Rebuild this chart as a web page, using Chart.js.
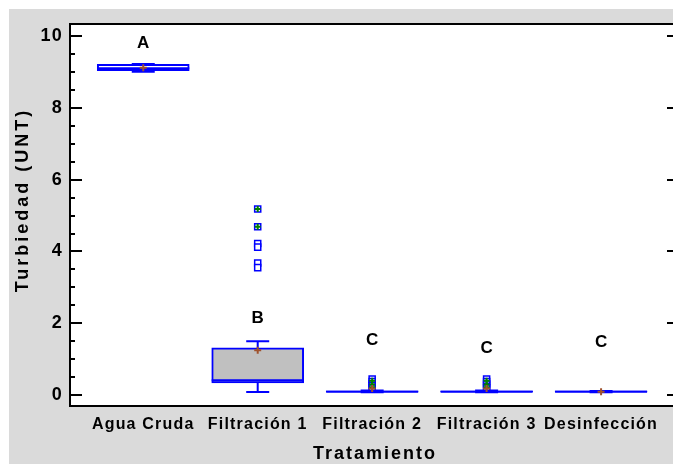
<!DOCTYPE html>
<html>
<head>
<meta charset="utf-8">
<script src="https://cdn.jsdelivr.net/npm/chart.js@4"></script>
<style>
  body { margin: 0; background: #fff; }
  #wrap { width: 673px; height: 464px; }
</style>
</head>
<body>
<div id="wrap"><canvas id="chart" width="673" height="464"></canvas></div>
<script>
// categories and box statistics
const categories = ['Agua Cruda', 'Filtración 1', 'Filtración 2', 'Filtración 3', 'Desinfección'];
const q1 = [9.03, 0.34, 0.09, 0.09, 0.09];
const q3 = [9.21, 1.32, 0.12, 0.12, 0.12];
const medians = [9.1, 0.42, 0.1, 0.1, 0.1];
const means = [9.11, 1.25, 0.19, 0.19, 0.1];
const whiskerLow = [9.0, 0.09, 0.08, 0.08, 0.08];
const whiskerHigh = [9.22, 1.5, 0.13, 0.13, 0.12];
const letters = ['A', 'B', 'C', 'C', 'C'];
const letterY = [9.78, 2.14, 1.53, 1.31, 1.48];

// outliers per category (index into categories)
const outliers = [[], [5.18, 4.69, 4.22, 4.12, 3.68, 3.55], [0.45, 0.38, 0.32, 0.26, 0.2], [0.45, 0.38, 0.31, 0.25, 0.2], []];
const farOutliers = [[], [5.18, 4.69], [0.4, 0.3, 0.22], [0.4, 0.3, 0.22], []];

const yTicks = [0, 0.5, 1, 1.5, 2, 2.5, 3, 3.5, 4, 4.5, 5, 5.5, 6, 6.5, 7, 7.5, 8, 8.5, 9, 9.5, 10];

const xTitle = 'Tratamiento';
const yTitle = 'Turbiedad (UNT)';

const boxColor = '#0000ff';
const meanColor = '#a0522d';
const FONT = 'Arial, "Liberation Sans", sans-serif';

// flatten outliers to {x, y} points
const outPts = [];
outliers.forEach((arr, i) => arr.forEach(v => outPts.push({ x: i, y: v })));
const farPts = [];
farOutliers.forEach((arr, i) => arr.forEach(v => farPts.push({ x: i, y: v })));

const backgroundPlugin = {
    id: 'bg',
    beforeDraw(chart) {
        const c = chart.ctx, a = chart.chartArea;
        c.save();
        c.fillStyle = '#fff';
        c.fillRect(0, 0, chart.width, chart.height);
        c.fillStyle = '#dadada';
        c.fillRect(9, 9, chart.width - 9, chart.height - 9);
        // plot panel runs past the right edge of the picture
        c.fillStyle = '#fff';
        c.fillRect(a.left, a.top, chart.width - a.left, a.bottom - a.top);
        c.restore();
        // the original text is a bit spaced out
        c.letterSpacing = '1.2px';
    }
};

// whiskers, medians, means, letters, inward ticks, titles and top frame
const boxPlugin = {
    id: 'boxExtras',
    afterDatasetsDraw(chart) {
        const c = chart.ctx;
        const xs = chart.scales.x, ys = chart.scales.y;
        c.save();
        c.strokeStyle = boxColor;
        c.lineWidth = 2;
        categories.forEach((cat, i) => {
            const x = xs.getPixelForValue(i);
            const capW = 11.5;
            c.beginPath();
            c.moveTo(x, ys.getPixelForValue(q3[i]));
            c.lineTo(x, ys.getPixelForValue(whiskerHigh[i]));
            c.moveTo(x - capW, ys.getPixelForValue(whiskerHigh[i]));
            c.lineTo(x + capW, ys.getPixelForValue(whiskerHigh[i]));
            c.moveTo(x, ys.getPixelForValue(q1[i]));
            c.lineTo(x, ys.getPixelForValue(whiskerLow[i]));
            c.moveTo(x - capW, ys.getPixelForValue(whiskerLow[i]));
            c.lineTo(x + capW, ys.getPixelForValue(whiskerLow[i]));
            c.stroke();
            c.beginPath();
            c.moveTo(x - 46, ys.getPixelForValue(medians[i]));
            c.lineTo(x + 46, ys.getPixelForValue(medians[i]));
            c.stroke();
        });
        c.strokeStyle = meanColor;
        c.lineWidth = 2;
        categories.forEach((cat, i) => {
            const x = xs.getPixelForValue(i), y = ys.getPixelForValue(means[i]);
            c.beginPath();
            c.moveTo(x - 3.5, y); c.lineTo(x + 3.5, y);
            c.moveTo(x, y - 3.5); c.lineTo(x, y + 3.5);
            c.stroke();
        });
        c.restore();
    },
    afterDraw(chart) {
        const c = chart.ctx, a = chart.chartArea;
        const xs = chart.scales.x, ys = chart.scales.y;
        c.save();
        c.fillStyle = '#000';
        c.letterSpacing = '0px';
        c.font = 'bold 17px ' + FONT;
        c.textAlign = 'center';
        c.textBaseline = 'middle';
        letters.forEach((l, i) => {
            c.fillText(l, xs.getPixelForValue(i), ys.getPixelForValue(letterY[i]));
        });
        // axis titles
        c.font = 'bold 18px ' + FONT;
        c.letterSpacing = '2px';
        c.fillText(xTitle, 375, 454);
        c.save();
        c.translate(23, (a.top + a.bottom) / 2 - 15);
        c.rotate(-Math.PI / 2);
        c.letterSpacing = '3px';
        c.fillText(yTitle, 0, 0);
        c.restore();
        // inward ticks: left axis, and right axis just beyond the canvas edge
        const rightX = chart.width + 6;
        c.strokeStyle = '#000';
        c.lineWidth = 2;
        yTicks.forEach(v => {
            const y = Math.round(ys.getPixelForValue(v));
            const len = (v % 2 === 0) ? 12 : 5;
            c.beginPath();
            c.moveTo(a.left, y); c.lineTo(a.left + len, y);
            c.moveTo(rightX, y); c.lineTo(rightX - len, y);
            c.stroke();
        });
        c.beginPath();
        c.moveTo(a.left - 1, a.top);
        c.lineTo(chart.width, a.top);
        c.moveTo(a.right, a.bottom);
        c.lineTo(chart.width, a.bottom);
        c.stroke();
        c.restore();
    }
};

const ctx = document.getElementById('chart').getContext('2d');

const myChart = new Chart(ctx, {
    type: 'bar',
    data: {
        datasets: [{
            label: 'caja',
            data: categories.map((c, i) => ({ x: i, y: [q1[i], q3[i]] })),
            backgroundColor: ['#ffffff', '#c0c0c0', '#ffffff', '#ffffff', '#ffffff'],
            borderColor: boxColor,
            borderWidth: 2,
            borderSkipped: false,
            barThickness: 92,
            order: 2
        }, {
            type: 'scatter',
            label: 'atípicos',
            data: outPts,
            pointStyle: 'rect',
            pointRadius: 4.3,
            backgroundColor: '#ffffff',
            borderColor: boxColor,
            borderWidth: 1.5,
            order: 1
        }, {
            type: 'scatter',
            label: 'atípicos lejanos',
            data: farPts,
            pointStyle: 'cross',
            pointRadius: 3,
            borderColor: '#008000',
            borderWidth: 2,
            order: 0
        }]
    },
    options: {
        responsive: false,
        animation: false,
        layout: { padding: { left: 0, top: 24, right: 0, bottom: 0 } },
        plugins: {
            legend: { display: false },
            tooltip: { enabled: false }
        },
        scales: {
            x: {
                type: 'linear',
                min: -0.64,
                max: 4.576,
                offset: false,
                afterFit: s => { s.height = 58; s.paddingLeft = 0; s.paddingRight = 0; },
                afterBuildTicks: s => { s.ticks = categories.map((c, i) => ({ value: i })); },
                grid: { display: true, drawOnChartArea: false, drawTicks: false },
                border: { display: true, color: '#000', width: 2 },
                ticks: {
                    padding: 9,
                    color: '#000',
                    maxRotation: 0,
                    autoSkip: false,
                    font: { family: FONT, size: 16, weight: 'bold' },
                    callback: v => categories[v]
                },
                title: { display: false }
            },
            y: {
                min: -0.3,
                max: 10.33,
                afterFit: s => { s.width = 70; s.paddingTop = 0; s.paddingBottom = 0; },
                afterBuildTicks: s => { s.ticks = yTicks.map(v => ({ value: v })); },
                grid: { display: true, drawOnChartArea: false, drawTicks: false },
                border: { display: true, color: '#000', width: 2 },
                ticks: {
                    padding: 7,
                    color: '#000',
                    autoSkip: false,
                    font: { family: FONT, size: 18, weight: 'bold' },
                    callback: v => (v % 2 === 0 ? String(v) : '')
                },
                title: { display: false }
            }
        }
    },
    plugins: [backgroundPlugin, boxPlugin]
});
</script>
</body>
</html>
